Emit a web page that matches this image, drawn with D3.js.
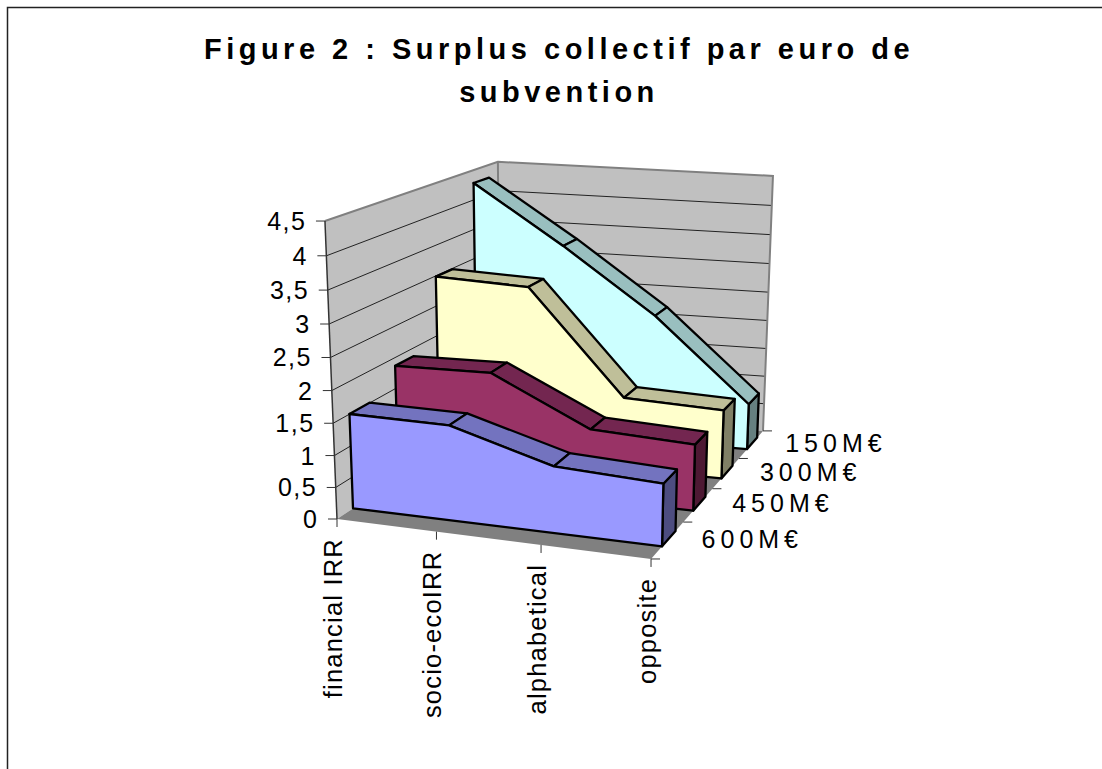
<!DOCTYPE html>
<html>
  <head>
    <title>Figure 2</title>
    <script src="https://unpkg.com/d3@7/dist/d3.min.js"></script>
    <style>
      html, body { margin: 0; background: #fff; }
      svg { display: block; }
      text { font-family: "Liberation Sans", Arial, sans-serif; fill: #000; }
    </style>
  </head>
  <body>
    <svg width="1102" height="769"></svg>

    <script>
      const titleLines = ["Figure 2 : Surplus collectif par euro de", "subvention"];
      const categories = ["financial IRR", "socio-ecoIRR", "alphabetical", "opposite"];
      const seriesNames = ["600M€", "450M€", "300M€", "150M€"];
      const valueTicks = [0, 0.5, 1, 1.5, 2, 2.5, 3, 3.5, 4, 4.5];

      const values600 = [1.5, 1.5, 1.05, 0.98];
      const values450 = [1.86, 1.9, 1.15, 1.08];
      const values300 = [2.98, 2.93, 1.22, 1.16];
      const values150 = [4.28, 3.31, 2.22, 0.8];
      const allValues = [values600, values450, values300, values150];

      const frontColors = ["#9999ff", "#993366", "#ffffcc", "#ccffff"];
      const topColors = ["#7373bf", "#732650", "#bfbf99", "#99bfbf"];
      const sideColors = ["#4d4d80", "#4d1933", "#808066", "#668080"];

      const svg = d3.select("svg");

      // unit box scales: x along categories, d into the depth, z up
      const xScale = d3.scalePoint().domain(categories).range([0, 1]);
      const depthBand = d3.scaleBand().domain(seriesNames).range([0.01, 1.01]).paddingInner(0.58).paddingOuter(0.29);
      const depthStep = d3.scaleLinear().domain([0, seriesNames.length]).range([0, 1]);
      const zScale = d3.scaleLinear().domain([0, 4.5]).range([0, 1]);

      // perspective camera, fitted on the corners of the chart box
      const cam = {
        u: [294.5, 267.3, -29.3, 337],
        v: [23.2, -34.6, -309.7, 519],
        w: [-0.03, 0.208, -0.0531, 1],
        skew: 10.5,
        bow: 0.045
      };
      function project(x0, d, z) {
        const x = x0 - cam.bow * x0 * (1 - x0);
        const w = cam.w[0] * x + cam.w[1] * d + cam.w[2] * z + cam.w[3];
        return [
          (cam.u[0] * x + cam.u[1] * d + cam.u[2] * z + cam.u[3]) / w,
          (cam.v[0] * x + cam.v[1] * d + cam.v[2] * z + cam.v[3]) / w + cam.skew * d * (1 - x)
        ];
      }
      const poly = d3.line().curve(d3.curveLinearClosed);

      // walls and floor
      const wallEdge = "#808080";
      const walls = svg.append("g");
      walls.append("path")
        .attr("d", poly([project(0, 0, 0), project(0, 1, 0), project(0, 1, 1), project(0, 0, 1)]))
        .attr("fill", "#c0c0c0");
      walls.append("path")
        .attr("d", poly([project(0, 1, 0), project(1, 1, 0), project(1, 1, 1), project(0, 1, 1)]))
        .attr("fill", "#c0c0c0");
      walls.append("path")
        .attr("d", poly([project(0, 0, 0), project(1, 0, 0), project(1, 1, 0), project(0, 1, 0)]))
        .attr("fill", "#808080");

      // grid lines
      walls.selectAll("path.grid")
        .data(valueTicks.slice(1, -1))
        .enter()
        .append("path")
          .attr("class", "grid")
          .attr("fill", "none")
          .attr("stroke", "#222")
          .attr("stroke-width", 1)
          .attr("d", v => d3.line()([project(0, 0, zScale(v)), project(0, 1, zScale(v)), project(1, 1, zScale(v))]));

      // outer wall edges
      walls.append("path")
        .attr("d", d3.line()([project(0, 0, 1), project(0, 1, 1), project(1, 1, 1), project(1, 1, 0)]))
        .attr("fill", "none")
        .attr("stroke", wallEdge)
        .attr("stroke-width", 2);
      walls.append("path")
        .attr("d", d3.line()([project(0, 1, 1), project(0, 1, 0)]))
        .attr("stroke", wallEdge)
        .attr("stroke-width", 2);
      walls.append("path")
        .attr("d", d3.line()([project(0, 0, 0), project(0, 0, 1)]))
        .attr("stroke", "#333")
        .attr("stroke-width", 1.5);

      // ribbons, back to front
      const order = d3.range(seriesNames.length).reverse();
      const ribbons = svg.selectAll("g.ribbon")
        .data(order)
        .enter()
        .append("g")
          .attr("class", "ribbon")
          .attr("stroke", "#000")
          .attr("stroke-width", 2.3)
          .attr("stroke-linejoin", "round");

      ribbons.each(function(s) {
        const g = d3.select(this);
        const d0 = depthBand(seriesNames[s]);
        const d1 = d0 + depthBand.bandwidth();
        const vals = allValues[s];
        const xs = categories.map(c => xScale(c));
        const last = xs.length - 1;

        // right side
        g.append("path")
          .attr("fill", sideColors[s])
          .attr("d", poly([
            project(1, d0, 0), project(1, d1, 0),
            project(1, d1, zScale(vals[last])), project(1, d0, zScale(vals[last]))
          ]));
        // top segments
        g.selectAll("path.top")
          .data(d3.range(last))
          .enter()
          .append("path")
            .attr("class", "top")
            .attr("fill", topColors[s])
            .attr("d", i => poly([
              project(xs[i], d0, zScale(vals[i])), project(xs[i + 1], d0, zScale(vals[i + 1])),
              project(xs[i + 1], d1, zScale(vals[i + 1])), project(xs[i], d1, zScale(vals[i]))
            ]));
        // front
        g.append("path")
          .attr("fill", frontColors[s])
          .attr("d", poly(
            [project(0, d0, 0)]
              .concat(xs.map((x, i) => project(x, d0, zScale(vals[i]))))
              .concat([project(1, d0, 0)])
          ));
      });

      // value axis
      const axisG = svg.append("g");
      axisG.selectAll("line.vtick")
        .data(valueTicks)
        .enter()
        .append("line")
          .attr("class", "vtick")
          .attr("stroke", "#333")
          .attr("x1", v => project(0, 0, zScale(v))[0] - 9)
          .attr("x2", v => project(0, 0, zScale(v))[0])
          .attr("y1", v => project(0, 0, zScale(v))[1])
          .attr("y2", v => project(0, 0, zScale(v))[1]);
      axisG.selectAll("text.vlabel")
        .data(valueTicks)
        .enter()
        .append("text")
          .attr("class", "vlabel")
          .attr("x", v => project(0, 0, zScale(v))[0] - 18.5)
          .attr("y", v => project(0, 0, zScale(v))[1] + 9)
          .attr("text-anchor", "end")
          .attr("font-size", 25)
          .attr("letter-spacing", 1.5)
          .text(v => String(v).replace(".", ","));

      // category axis
      axisG.selectAll("line.ctick")
        .data(categories)
        .enter()
        .append("line")
          .attr("class", "ctick")
          .attr("stroke", "#333")
          .attr("x1", c => project(xScale(c), 0, 0)[0])
          .attr("x2", c => project(xScale(c), 0, 0)[0])
          .attr("y1", c => project(xScale(c), 0, 0)[1])
          .attr("y2", c => project(xScale(c), 0, 0)[1] + 8);
      axisG.selectAll("text.clabel")
        .data(categories)
        .enter()
        .append("text")
          .attr("class", "clabel")
          .attr("text-anchor", "end")
          .attr("font-size", 25.5)
          .attr("letter-spacing", 1.2)
          .attr("transform", c => {
            const p = project(xScale(c), 0, 0);
            return `translate(${p[0] + 4.5},${p[1] + 19}) rotate(-90)`;
          })
          .text(c => c);

      // series axis
      axisG.selectAll("line.stick")
        .data(d3.range(seriesNames.length + 1))
        .enter()
        .append("line")
          .attr("class", "stick")
          .attr("stroke", "#333")
          .attr("x1", i => project(1, depthStep(i), 0)[0])
          .attr("x2", i => project(1, depthStep(i), 0)[0] + 9)
          .attr("y1", i => project(1, depthStep(i), 0)[1])
          .attr("y2", i => project(1, depthStep(i), 0)[1]);
      axisG.selectAll("text.slabel")
        .data(seriesNames)
        .enter()
        .append("text")
          .attr("class", "slabel")
          .attr("font-size", 25)
          .attr("letter-spacing", 5)
          .attr("x", (s, i) => project(1, depthStep(i + 0.5), 0)[0] + 34)
          .attr("y", (s, i) => project(1, depthStep(i + 0.5), 0)[1] + 7.5)
          .text(s => s);

      // title
      svg.selectAll("text.title")
        .data(titleLines)
        .enter()
        .append("text")
          .attr("class", "title")
          .attr("x", 559)
          .attr("y", (d, i) => 58.5 + i * 43.5)
          .attr("text-anchor", "middle")
          .attr("font-size", 29)
          .attr("font-weight", "bold")
          .attr("letter-spacing", 4.5)
          .text(d => d);

      // chart frame, cut by the page on the right and at the bottom
      svg.append("path")
        .attr("d", d3.line()([[7.5, 769], [7.5, 7.5], [1102, 7.5]]))
        .attr("fill", "none")
        .attr("stroke", "#222")
        .attr("stroke-width", 1.5);
    </script>
  </body>
</html>
